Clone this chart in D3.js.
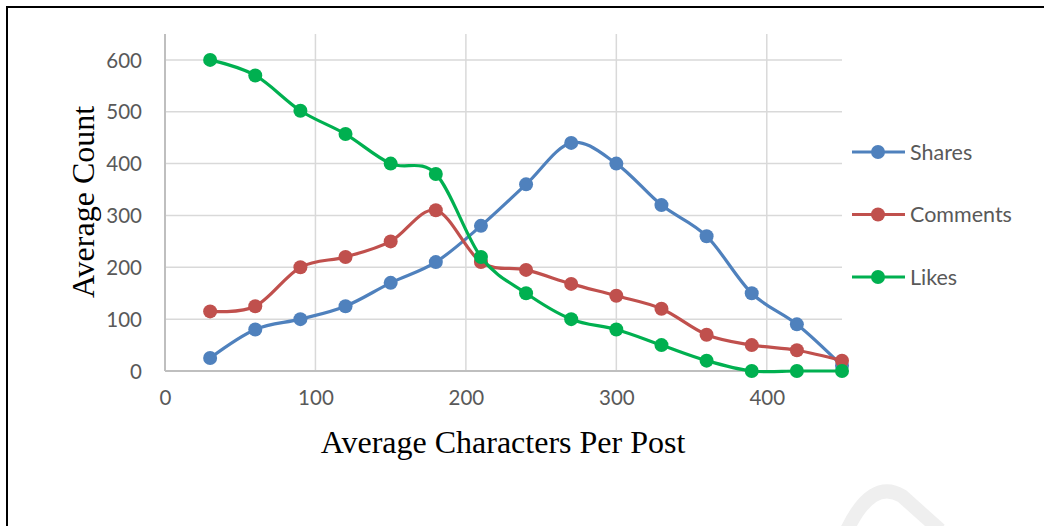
<!DOCTYPE html>
<html>
<head>
<meta charset="utf-8">
<script src="https://cdn.jsdelivr.net/npm/d3@7/dist/d3.min.js"></script>
<style>
  html, body { margin: 0; padding: 0; background: #fff; }
  svg { display: block; }
</style>
</head>
<body>
<svg id="chart" width="1044" height="526"></svg>
<script>
// Average engagement by post length
const charsPerPost = [30, 60, 90, 120, 150, 180, 210, 240, 270, 300, 330, 360, 390, 420, 450];
const shares   = [25, 80, 100, 125, 170, 210, 280, 360, 440, 400, 320, 260, 150, 90, 10];
const comments = [115, 125, 200, 220, 250, 310, 210, 195, 168, 145, 120, 70, 50, 40, 20];
const likes    = [600, 570, 502, 457, 400, 380, 220, 150, 100, 80, 50, 20, 0, 0, 0];
const seriesNames = ["Shares", "Comments", "Likes"];
const seriesColors = ["#4f81bd", "#c0504d", "#00b050"];
const xTicks = [0, 100, 200, 300, 400];
const yTicks = [0, 100, 200, 300, 400, 500, 600];

const series = [shares, comments, likes].map((vals, i) => ({
  name: seriesNames[i],
  color: seriesColors[i],
  points: charsPerPost.map((x, j) => ({ x, y: vals[j] }))
}));

const svg = d3.select("#chart");
const labelFont = "Lato, 'Open Sans', sans-serif";
const titleFont = "'Liberation Serif', 'Times New Roman', serif";

// outer frame
svg.append("path")
  .attr("d", "M7,530 V7 H1044")
  .attr("fill", "none")
  .attr("stroke", "#000")
  .attr("stroke-width", 2);

// faint mark in the lower right corner
svg.append("path")
  .attr("d", "M847,530 Q872,478 902,496 L940,530")
  .attr("fill", "none")
  .attr("stroke", "#efefef")
  .attr("stroke-width", 14);

const x = d3.scaleLinear().domain([0, 450]).range([165, 842]);
const y = d3.scaleLinear().domain([0, 650]).range([371, 34]);

const grid = svg.append("g");
// horizontal gridlines
grid.selectAll("line.h").data(yTicks.filter(d => d > 0)).join("line")
  .attr("x1", x(0)).attr("x2", x(450))
  .attr("y1", d => y(d)).attr("y2", d => y(d))
  .attr("stroke", "#d9d9d9").attr("stroke-width", 1.5);
// vertical gridlines
grid.selectAll("line.v").data(xTicks.filter(d => d > 0)).join("line")
  .attr("x1", d => x(d)).attr("x2", d => x(d))
  .attr("y1", y(650)).attr("y2", y(0))
  .attr("stroke", "#d9d9d9").attr("stroke-width", 1.5);

// axes
const xAxis = svg.append("g").attr("transform", `translate(0,${y(0)})`)
  .call(d3.axisBottom(x).tickValues(xTicks).tickSize(0).tickPadding(34));
const yAxis = svg.append("g").attr("transform", `translate(${x(0)},0)`)
  .call(d3.axisLeft(y).tickValues(yTicks).tickSize(0).tickPadding(23));
[xAxis, yAxis].forEach(g => {
  g.select(".domain").attr("stroke", "#bfbfbf").attr("stroke-width", 2);
  g.selectAll("text")
    .attr("fill", "#595959")
    .style("font-family", labelFont)
    .style("font-size", "20.5px");
});
yAxis.selectAll("text").attr("dy", "0.35em");
xAxis.selectAll("text").attr("dy", "0");
// bottom axis spans the full plot width
xAxis.select(".domain").attr("d", `M${x(0)},0H${x(450)}`);
yAxis.select(".domain").attr("d", `M0,${y(0)}V${y(650)}`);

// axis titles
svg.append("text")
  .attr("x", 503).attr("y", 453)
  .attr("text-anchor", "middle")
  .style("font-family", titleFont)
  .style("font-size", "32px")
  .attr("fill", "#000")
  .text("Average Characters Per Post");
svg.append("text")
  .attr("transform", "translate(94,202) rotate(-90)")
  .attr("text-anchor", "middle")
  .style("font-family", titleFont)
  .style("font-size", "32px")
  .attr("fill", "#000")
  .text("Average Count");

// smoothed series lines with markers
const line = d3.line()
  .x(d => x(d.x)).y(d => y(d.y))
  .curve(d3.curveCardinal.tension(0));

series.forEach(s => {
  const g = svg.append("g");
  g.append("path")
    .attr("d", line(s.points))
    .attr("fill", "none")
    .attr("stroke", s.color)
    .attr("stroke-width", 3.2)
    .attr("stroke-linejoin", "round");
  g.selectAll("circle").data(s.points).join("circle")
    .attr("cx", d => x(d.x)).attr("cy", d => y(d.y))
    .attr("r", 7)
    .attr("fill", s.color);
});

// legend
const legend = svg.append("g");
series.forEach((s, i) => {
  const ly = 152 + i * 62.5;
  legend.append("line")
    .attr("x1", 852).attr("x2", 905)
    .attr("y1", ly).attr("y2", ly)
    .attr("stroke", s.color).attr("stroke-width", 3.2);
  legend.append("circle")
    .attr("cx", 878).attr("cy", ly).attr("r", 7).attr("fill", s.color);
  legend.append("text")
    .attr("x", 910).attr("y", ly).attr("dy", "0.35em")
    .attr("fill", "#595959")
    .style("font-family", labelFont)
    .style("font-size", "21.5px")
    .text(s.name);
});
</script>
</body>
</html>
